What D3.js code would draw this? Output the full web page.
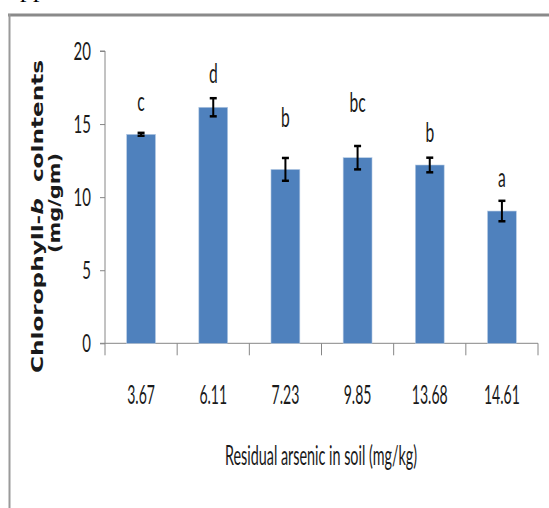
<!DOCTYPE html>
<html><head><meta charset="utf-8">
<script src="https://cdn.jsdelivr.net/npm/d3@7"></script>
<style>html,body{margin:0;padding:0;background:#fff;}svg{display:block;}</style>
</head><body>
<svg id="chart" width="549" height="508"></svg>
<script>
const categories = ["3.67", "6.11", "7.23", "9.85", "13.68", "14.61"];
const values = [14.3, 16.15, 11.9, 12.7, 12.2, 9.05];
const errors = [0.1, 0.62, 0.78, 0.8, 0.5, 0.7];
const letters = ["c", "d", "b", "bc", "b", "a"];
const letterLevels = [15.9, 17.8, 14.8, 15.8, 13.8, 10.7];
const yTicks = [0, 5, 10, 15, 20];

const svg = d3.select("#chart");
const W = 549, H = 508;
svg.append("rect").attr("width", W).attr("height", H).attr("fill", "#fff");

// partly visible text above the frame
svg.append("text").attr("x", 20).attr("y", -3)
  .attr("font-family", "Liberation Serif").attr("font-size", 26).attr("fill", "#000").text("pp");

// frame
svg.append("line").attr("x1", 8).attr("x2", W).attr("y1", 15).attr("y2", 15)
  .attr("stroke", "#8a8a8a").attr("stroke-width", 3);
svg.append("line").attr("x1", 9.5).attr("x2", 9.5).attr("y1", 14).attr("y2", H)
  .attr("stroke", "#9a9a9a").attr("stroke-width", 2);

const x = d3.scaleBand().domain(categories).range([105, 538]).paddingInner(0.6).paddingOuter(0.3);
const y = d3.scaleLinear().domain([0, 20]).range([343.3, 51]);
const axisColor = "#868686";
const FONT = "Lato, 'Open Sans', sans-serif";

function narrowText(g, tx, ty, str, size, sx, anchor) {
  return g.append("text")
    .attr("transform", `translate(${tx},${ty}) scale(${sx},1)`)
    .attr("text-anchor", anchor || "middle")
    .attr("font-family", FONT).attr("font-size", size).attr("fill", "#1a1a1a")
    .text(str);
}

// Y axis
const yAxis = d3.axisLeft(y).tickValues(yTicks).tickSize(5).tickFormat("");
const gy = svg.append("g").attr("transform", "translate(105,0)").call(yAxis);
gy.selectAll("path,line").attr("stroke", axisColor);
gy.select(".domain").attr("d", `M-5,${y(20)}H0V${y(0)}`);
yTicks.forEach(t => narrowText(svg, 91, y(t) + 9, String(t), 25, 0.6, "end"));

// X axis
svg.append("line").attr("x1", 100).attr("x2", 538).attr("y1", y(0)).attr("y2", y(0))
  .attr("stroke", axisColor).attr("stroke-width", 1);
const bounds = [x.range()[0]].concat(categories.map(c => x(c) - x.step() * x.paddingInner() / 2 + x.step()));
bounds[bounds.length - 1] = x.range()[1];
svg.selectAll("line.xtick").data(bounds).enter().append("line").attr("class", "xtick")
  .attr("x1", d => d).attr("x2", d => d).attr("y1", y(0)).attr("y2", y(0) + 12)
  .attr("stroke", axisColor).attr("stroke-width", 1);
categories.forEach(c => narrowText(svg, x(c) + x.bandwidth() / 2, 403.5, c, 26.5, 0.53));

// Bars
svg.selectAll("rect.bar").data(values).enter().append("rect").attr("class", "bar")
  .attr("x", (d, i) => x(categories[i]))
  .attr("width", x.bandwidth())
  .attr("y", d => y(d))
  .attr("height", d => y(0) - y(d))
  .attr("fill", "#4F81BD")
  .attr("stroke", "#b9cde5").attr("stroke-width", 0.6);

// Error bars
const eb = svg.append("g");
values.forEach((v, i) => {
  const cx = x(categories[i]) + x.bandwidth() / 2;
  const top = y(v + errors[i]), bot = y(v - errors[i]);
  eb.append("line").attr("x1", cx).attr("x2", cx).attr("y1", top).attr("y2", bot)
    .attr("stroke", "#000").attr("stroke-width", 2);
  [top, bot].forEach(yy => eb.append("line").attr("x1", cx - 3.5).attr("x2", cx + 3.5)
    .attr("y1", yy).attr("y2", yy).attr("stroke", "#000").attr("stroke-width", 2.5));
});

// Significance letters
letters.forEach((l, i) => narrowText(svg, x(categories[i]) + x.bandwidth() / 2, y(letterLevels[i]), l, 26, 0.6));

// X axis title
svg.append("text").attr("x", 321).attr("y", 465).attr("text-anchor", "middle")
  .attr("font-family", FONT).attr("font-size", 26).attr("fill", "#1a1a1a")
  .attr("textLength", 192).attr("lengthAdjust", "spacingAndGlyphs")
  .text("Residual arsenic in soil (mg/kg)");

// Y axis title
const yt = svg.append("text").attr("transform", "translate(43,216.5) rotate(-90)")
  .attr("text-anchor", "middle").attr("font-family", "'DejaVu Sans', Verdana, sans-serif")
  .attr("font-weight", "bold").attr("font-size", 15).attr("fill", "#1a1a1a")
  .attr("textLength", 313).attr("lengthAdjust", "spacingAndGlyphs");
yt.append("tspan").text("Chlorophyll-");
yt.append("tspan").attr("font-style", "italic").text("b");
yt.append("tspan").text("\u00a0\u00a0colntents");
svg.append("text").attr("transform", "translate(60,203) rotate(-90)")
  .attr("text-anchor", "middle").attr("font-family", "'DejaVu Sans', Verdana, sans-serif")
  .attr("font-weight", "bold").attr("font-size", 15).attr("fill", "#1a1a1a")
  .attr("textLength", 100).attr("lengthAdjust", "spacingAndGlyphs")
  .text("(mg/gm)");
</script>
</body></html>
